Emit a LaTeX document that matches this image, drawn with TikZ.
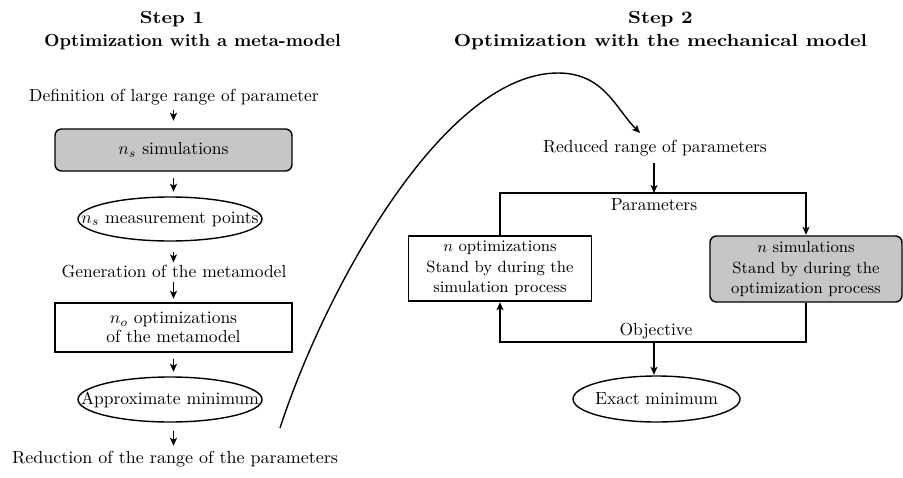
\documentclass[tikz,border=0pt]{standalone}
\usetikzlibrary{arrows.meta,shapes.geometric,calc}
\begin{document}
\begin{tikzpicture}[x=1pt,y=-1pt,line width=1.4pt,
  every node/.style={scale=1.75,transform shape,inner sep=1.15pt,font=\fontsize{10}{12}\selectfont},
  title/.style={font=\bfseries\fontsize{10}{12.6}\selectfont,anchor=base},
  arr/.style={-{Stealth[length=8pt,width=7pt,inset=2pt]}},
  simbox/.style={draw,fill=gray!45,rounded corners=6.5pt},
  plainbox/.style={draw},
  ell/.style={draw,ellipse,inner sep=0pt},
  rtext/.style={font=\fontsize{9.25}{11.7}\selectfont,align=center}
]
\useasboundingbox (0,0) rectangle (903,477);

% ---------- Step 1 ----------
\node[title,xscale=1.14] (t1) at (172,23) {Step 1};
\node[title,xscale=1.03] (t1b) at (192.5,46) {Optimization with a meta-model};
\node (def) at (174,97) {Definition of large range of parameter};
\node[simbox,minimum width=237/1.75,minimum height=42/1.75] (s1) at (173.5,150) {$n_s$ simulations};
\node[ell,minimum width=184/1.75,minimum height=44/1.75] (m1) at (170,219) {\makebox[0pt]{$n_s$ measurement points}};
\node (gen) at (174,272) {Generation of the metamodel};
\node[plainbox,minimum width=237/1.75,minimum height=49/1.75,align=center] (o1) at (173.5,327.5)
  {$n_o$ optimizations\\[-1.5pt]of the metamodel};
\node[ell,minimum width=184/1.75,minimum height=45/1.75] (a1) at (170,399.5) {\makebox[0pt]{Approximate minimum}};
\node[xscale=1.03] (red) at (175,459) {Reduction of the range of the parameters};

\draw[arr,shorten <=1.5pt,shorten >=7pt] (def.south -| s1.north) -- (s1.north);
\draw[arr,shorten <=6pt,shorten >=4pt] (s1.south) -- (s1.south |- m1.north);
\draw[arr,shorten <=10pt,shorten >=0pt] (s1.south |- m1.south) -- (s1.south |- gen.north);
\draw[arr,shorten <=0pt,shorten >=3pt] (s1.south |- gen.south) -- (o1.north);
\draw[arr,shorten <=6pt,shorten >=4pt] (o1.south) -- (o1.south |- a1.north);
\draw[arr,shorten <=8pt,shorten >=2pt] (o1.south |- a1.south) -- (o1.south |- red.north);

% ---------- curve between the steps ----------
\coordinate (c0) at (280,428);
\coordinate (cp) at (558,73);
\coordinate (c1) at (640,133);
\draw[arr] (c0) .. controls (326.5,285.5) and (445,73) .. (cp)
               .. controls (604,73) and (615.5,108.5) .. (c1);

% ---------- Step 2 ----------
\node[title,xscale=1.15] (t2) at (660.5,23) {Step 2};
\node[title,xscale=1.15] (t2b) at (660.5,46) {Optimization with the mechanical model};
\node (rr) at (655,148) {Reduced range of parameters};
\coordinate (ptop) at (654,193);
\coordinate (pbot) at (654,342);
\node[plainbox,rtext,minimum width=183/1.75,minimum height=65/1.75] (lb) at (500,268.5)
  {$n$ optimizations\\Stand by during the\\simulation process};
\node[simbox,rtext,minimum width=192/1.75,minimum height=66/1.75] (rb) at (806,269)
  {$n$ simulations\\Stand by during the\\optimization process};
\node[ell,minimum width=167/1.75,minimum height=46/1.75] (ex) at (656.5,399) {\makebox[0pt]{Exact minimum}};
\node[anchor=base] (par) at (654,210) {Parameters};
\node[anchor=base] (obj) at (656,335) {Objective};

\draw[arr,shorten <=4pt] (rr.south -| ptop) -- (ptop);
\draw[arr] (lb.north) |- (ptop) -| (rb.north);
\draw[arr] (rb.south) |- (pbot) -| (lb.south);
\draw[arr] (pbot) -- (pbot |- ex.north);
\end{tikzpicture}
\end{document}
